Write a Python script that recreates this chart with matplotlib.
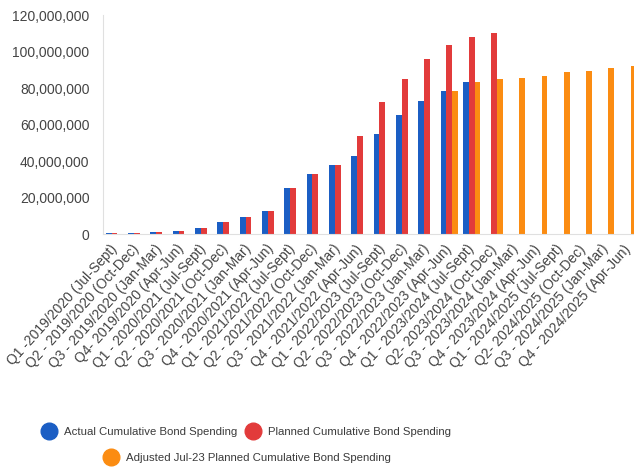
import numpy as np
import matplotlib
matplotlib.use("Agg")
import matplotlib.pyplot as plt
from matplotlib.lines import Line2D

plt.rcParams['font.family'] = ['Liberation Sans', 'DejaVu Sans']

quarters = [
    "Q1 -2019/2020 (Jul-Sept)", "Q2 - 2019/2020 (Oct-Dec)", "Q3 - 2019/2020 (Jan-Mar)",
    "Q4- 2019/2020 (Apr-Jun)", "Q1 - 2020/2021 (Jul-Sept)", "Q2 - 2020/2021 (Oct-Dec)",
    "Q3 - 2020/2021 (Jan-Mar)", "Q4 - 2020/2021 (Apr-Jun)", "Q1 - 2021/2022 (Jul-Sept)",
    "Q2 - 2021/2022 (Oct-Dec)", "Q3 - 2021/2022 (Jan-Mar)", "Q4 - 2021/2022 (Apr-Jun)",
    "Q1 - 2022/2023 (Jul-Sept)", "Q2 - 2022/2023 (Oct-Dec)", "Q3 - 2022/2023 (Jan-Mar)",
    "Q4 - 2022/2023 (Apr-Jun)", "Q1 - 2023/2024 (Jul-Sept)", "Q2- 2023/2024 (Oct-Dec)",
    "Q3 - 2023/2024 (Jan-Mar)", "Q4 - 2023/2024 (Apr-Jun)", "Q1 - 2024/2025 (Jul-Sept)",
    "Q2- 2024/2025 (Oct-Dec)", "Q3 - 2024/2025 (Jan-Mar)", "Q4 - 2024/2025 (Apr-Jun)",
]

# values in millions, None = no bar
actual = [0.4, 0.4, 1.1, 1.5, 3.1, 6.7, 9.5, 12.6, 25.4, 32.9, 37.6, 42.9,
          54.6, 65.0, 72.9, 78.4, 83.5, None, None, None, None, None, None, None]
planned = [0.4, 0.4, 1.1, 1.5, 3.1, 6.7, 9.5, 12.6, 25.4, 32.9, 37.6, 53.5,
           72.3, 85.1, 95.7, 103.4, 107.9, 110.3, None, None, None, None, None, None]
adjusted = [None] * 15 + [78.4, 83.5, 85.1, 85.8, 86.9, 88.8, 89.3, 91.0, 92.2]

def to_arr(v):
    return np.array([np.nan if a is None else a * 1e6 for a in v])

blue, red, orange = "#1b5ec4", "#e23b3b", "#fb8c12"

fig = plt.figure(figsize=(6.34, 4.72), dpi=100)
ax = fig.add_axes([0.163, 0.504, 0.845, 0.464])

x = np.arange(len(quarters))
w = 0.26
ax.bar(x - w, to_arr(actual), w, color=blue)
ax.bar(x, to_arr(planned), w, color=red)
ax.bar(x + w, to_arr(adjusted), w, color=orange)

ax.set_xlim(-0.5, len(quarters) - 0.5)
ax.set_ylim(0, 120e6)
ax.set_yticks(np.arange(0, 120e6 + 1, 20e6))
ax.yaxis.set_major_formatter(matplotlib.ticker.FuncFormatter(lambda v, p: "{:,.0f}".format(v)))
ax.tick_params(axis='y', length=0, pad=10, labelsize=10, labelcolor="#444444")
ax.set_xticks(x)
ax.set_xticklabels(quarters, rotation=48, ha='right', va='center',
                   rotation_mode='anchor', fontsize=10, color="#444444")
ax.tick_params(axis='x', length=0, pad=9)

for s in ['top', 'right']:
    ax.spines[s].set_visible(False)
ax.spines['left'].set_color("#e0e0e0")
ax.spines['bottom'].set_color("#e0e0e0")

def handle(c):
    return Line2D([], [], marker='o', linestyle='none', markersize=12,
                  markerfacecolor=c, markeredgecolor=c)

leg1 = fig.legend([handle(blue), handle(red)],
                  ["Actual Cumulative Bond Spending", "Planned Cumulative Bond Spending"],
                  loc='center', bbox_to_anchor=(0.385, 0.085), ncol=2, frameon=False,
                  fontsize=8.2, handletextpad=0.3, columnspacing=0.4, labelcolor="#3a3a3a")
leg2 = fig.legend([handle(orange)], ["Adjusted Jul-23 Planned Cumulative Bond Spending"],
                  loc='center', bbox_to_anchor=(0.387, 0.03), frameon=False,
                  fontsize=8.2, handletextpad=0.3, labelcolor="#3a3a3a")

fig.savefig("out.png", dpi=100)
